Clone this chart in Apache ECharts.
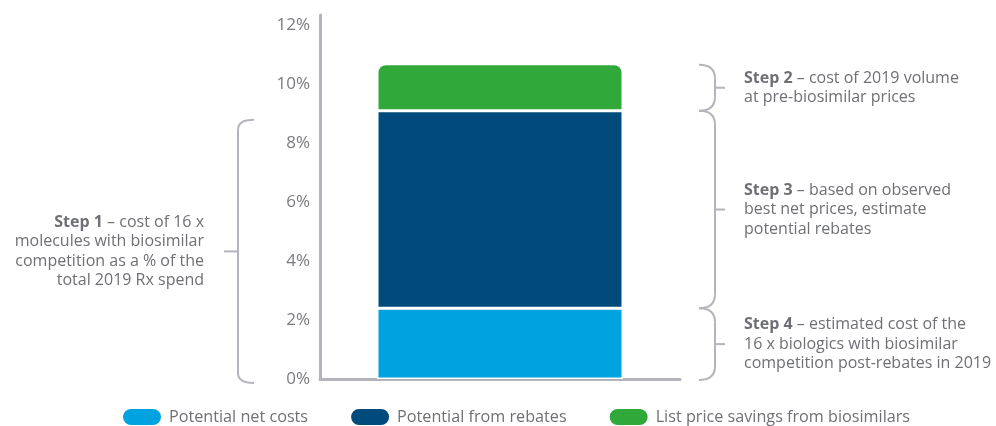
<!DOCTYPE html>
<html>
<head>
<meta charset="utf-8">
<script src="https://cdn.jsdelivr.net/npm/echarts@6/dist/echarts.min.js"></script>
<style>
  html, body { margin: 0; padding: 0; background: #fff; }
  #main { width: 996px; height: 426px; }
</style>
</head>
<body>
<div id="main"></div>
<script>
var myChart = echarts.init(document.getElementById('main'));

// data (% of total 2019 Rx spend)
var categories = ['2019'];
var netCosts = [2.4];
var rebates = [6.7];
var listSavings = [1.6];
var yTicks = [0, 2, 4, 6, 8, 10, 12];

var step1 = 'Step 1';
var step1Text = ' – cost of 16 x\nmolecules with biosimilar\ncompetition as a % of the\ntotal 2019 Rx spend';
var step2Text = ' – cost of 2019 volume\nat pre-biosimilar prices';
var step3Text = ' – based on observed\nbest net prices, estimate\npotential rebates';
var step4Text = ' – estimated cost of the\n16 x biologics with biosimilar\ncompetition post-rebates in 2019';

var gray = '#6f7075';
var axisGray = '#b4b4bc';
var font = '"Open Sans", sans-serif';
var BAR_W = 246;
var FS = 16;

var option = {
    animation: false,
    grid: {
        left: 320,
        right: 316,
        top: 15,
        bottom: 47
    },
    legend: {
        left: 121,
        top: 407,
        padding: 0,
        itemWidth: 40,
        itemHeight: 18,
        itemGap: 41,
        icon: 'path://M9,0 H31 A9,9 0 0 1 31,18 H9 A9,9 0 0 1 9,0 Z',
        textStyle: { color: gray, fontSize: 16.2, fontFamily: font, padding: [0, 0, 0, 2] },
        data: ['Potential net costs', 'Potential from rebates', 'List price savings from biosimilars']
    },
    xAxis: {
        type: 'category',
        data: categories,
        axisLine: { lineStyle: { color: axisGray, width: 3 } },
        axisTick: { show: false },
        axisLabel: { show: false }
    },
    yAxis: {
        type: 'value',
        min: 0,
        max: 12.35,
        interval: 2,
        axisLine: { show: true, lineStyle: { color: axisGray, width: 3 } },
        axisTick: { show: false },
        splitLine: { show: false },
        axisLabel: {
            margin: 10,
            color: '#7a7a80',
            fontSize: 17,
            fontFamily: font,
            formatter: function (v) {
                return yTicks.indexOf(v) >= 0 ? v + '%' : '';
            }
        }
    },
    series: [
        {
            name: 'Potential net costs',
            type: 'bar',
            stack: 'total',
            barWidth: BAR_W,
            data: netCosts,
            itemStyle: { color: '#00a3e0', borderColor: '#fff', borderWidth: 1.5 }
        },
        {
            name: 'Potential from rebates',
            type: 'bar',
            stack: 'total',
            data: rebates,
            itemStyle: { color: '#004a7c', borderColor: '#fff', borderWidth: 1.5 }
        },
        {
            name: 'List price savings from biosimilars',
            type: 'bar',
            stack: 'total',
            data: listSavings,
            itemStyle: { color: '#30a83a', borderColor: '#fff', borderWidth: 1.5, borderRadius: [8, 8, 0, 0] }
        }
    ]
};
myChart.setOption(option);

// brackets + step texts placed from the axis scale
function py(v) { return myChart.convertToPixel({ yAxisIndex: 0 }, v); }
var xc = myChart.convertToPixel({ xAxisIndex: 0 }, categories[0]);
var barLeft = xc - BAR_W / 2, barRight = xc + BAR_W / 2;

var lineStyle = { stroke: axisGray, lineWidth: 2, fill: null };
var richB = { b: { fontWeight: 'bold', fontSize: FS, fontFamily: font, fill: gray, lineHeight: 19.5 } };
var graphics = [];

function rightBrace(yTop, yBot, text) {
    var x = barRight + 92, r = 14, c = 16;
    var mid = (yTop + yBot) / 2;
    graphics.push(
        { type: 'bezierCurve', shape: { x1: x - c, y1: yTop, cpx1: x, cpy1: yTop, x2: x, y2: yTop + r }, style: lineStyle },
        { type: 'line', shape: { x1: x, y1: yTop + r, x2: x, y2: yBot - r }, style: lineStyle },
        { type: 'bezierCurve', shape: { x1: x, y1: yBot - r, cpx1: x, cpy1: yBot, x2: x - c, y2: yBot }, style: lineStyle },
        { type: 'line', shape: { x1: x, y1: mid, x2: x + 10, y2: mid }, style: lineStyle },
        {
            type: 'text', x: x + 29, y: mid,
            style: {
                text: text, fill: gray, font: FS + 'px ' + font, lineHeight: 19.5,
                align: 'left', verticalAlign: 'middle', rich: richB
            }
        }
    );
}

var y0 = py(0), y1 = py(netCosts[0]), y2 = py(netCosts[0] + rebates[0]), y3 = py(netCosts[0] + rebates[0] + listSavings[0]);

rightBrace(y3 + 1, y2, '{b|Step 2}' + step2Text);
rightBrace(y2, y1, '{b|Step 3}' + step3Text);
rightBrace(y1, y0 + 1, '{b|Step 4}' + step4Text);

// left bracket for step 1
(function () {
    var x = barLeft - 139, r = 10, c = 16;
    var top = y2 + 9, bot = y0 + 4, mid = (top + bot) / 2;
    graphics.push(
        { type: 'bezierCurve', shape: { x1: x + c, y1: top, cpx1: x, cpy1: top, x2: x, y2: top + r }, style: lineStyle },
        { type: 'line', shape: { x1: x, y1: top + r, x2: x, y2: bot - r }, style: lineStyle },
        { type: 'bezierCurve', shape: { x1: x, y1: bot - r, cpx1: x, cpy1: bot, x2: x + c, y2: bot }, style: lineStyle },
        { type: 'line', shape: { x1: x - 14, y1: mid, x2: x, y2: mid }, style: lineStyle },
        {
            type: 'text', x: x - 34, y: mid,
            style: {
                text: '{b|' + step1 + '}' + step1Text, fill: gray, font: FS + 'px ' + font, lineHeight: 19.5,
                align: 'right', verticalAlign: 'middle', rich: richB
            }
        }
    );
})();

myChart.setOption({ graphic: graphics });
</script>
</body>
</html>
